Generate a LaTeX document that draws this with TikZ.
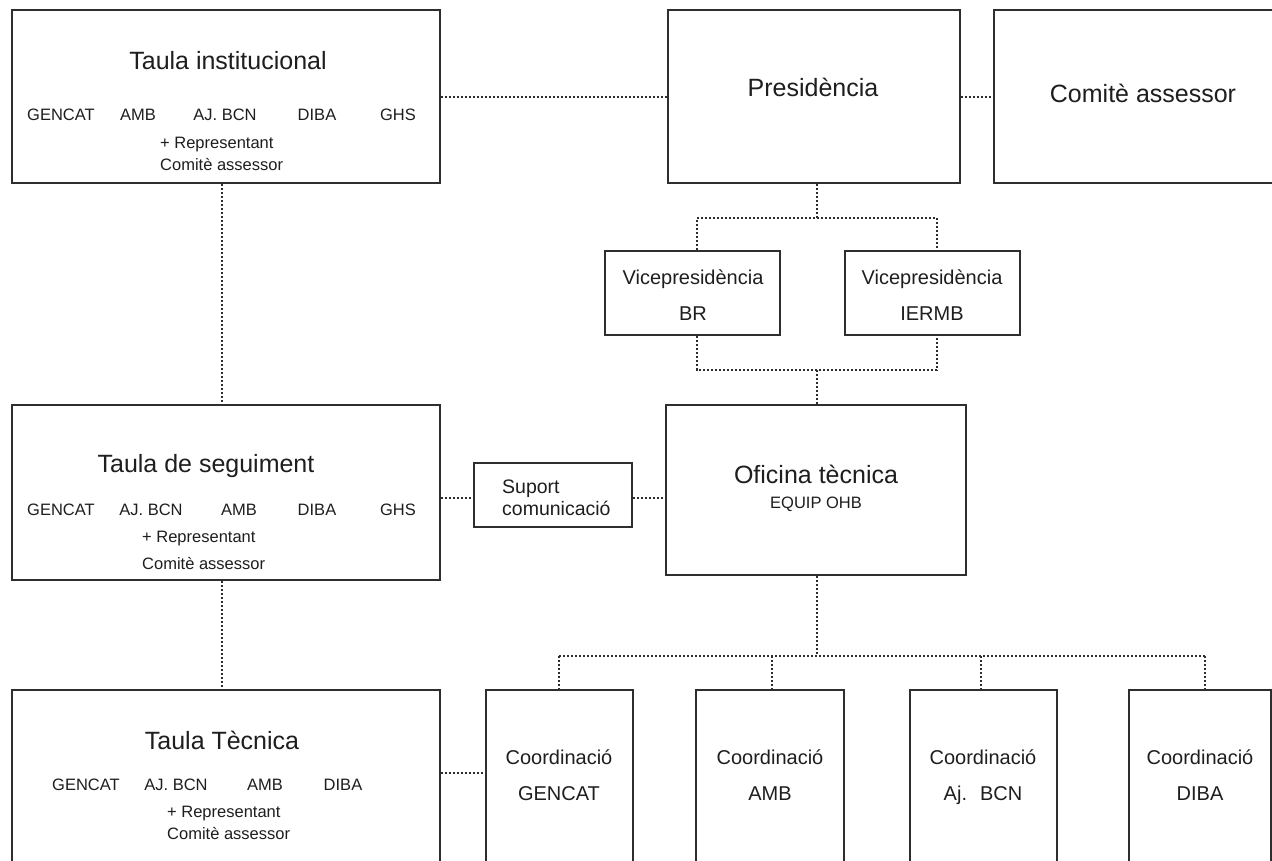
\documentclass[tikz,border=0pt]{standalone}
\usepackage{fontspec}
\setmainfont{Liberation Sans}
\definecolor{lc}{HTML}{2E2E2E}
\definecolor{tc}{HTML}{1E1E1E}
\begin{document}
\begin{tikzpicture}[x=1pt,y=-1pt,
  box/.style={draw=lc, line width=2.2pt, rectangle, inner sep=0pt, fill=white},
  conn/.style={draw=lc, line width=2pt, dash pattern=on 2pt off 2pt},
  tA/.style={inner sep=0pt, text=tc, font=\fontsize{25}{30}\selectfont, text height=18pt, text depth=0pt},
  tB/.style={inner sep=0pt, text=tc, font=\fontsize{20}{24}\selectfont, text height=14.4pt, text depth=0pt},
  tC/.style={inner sep=0pt, text=tc, font=\fontsize{16.5}{20}\selectfont, text height=11.9pt, text depth=0pt},
  tD/.style={inner sep=0pt, text=tc, font=\fontsize{19.5}{23}\selectfont, text height=14pt, text depth=0pt, anchor=west},
  tCw/.style={tC, anchor=west}
]
\useasboundingbox (0,0) rectangle (1272,860);
\clip (0,0) rectangle (1272,860);

% junction coordinates
\coordinate (j1) at (817,218);
\coordinate (b1) at (697,218);
\coordinate (b2) at (937,218);
\coordinate (j2) at (817,370);
\coordinate (c1) at (697,370);
\coordinate (c2) at (937,370);
\coordinate (t0) at (817,656);
\coordinate (tg) at (559,656);
\coordinate (ta) at (772,656);
\coordinate (tb) at (981,656);
\coordinate (td) at (1205,656);
\coordinate (m1) at (463,773);
\coordinate (m2) at (600,498);
\coordinate (vx) at (222,300);

% boxes
\node[box, minimum width=428pt, minimum height=173pt] (inst) at (226,96.5) {};
\node[box, minimum width=292pt, minimum height=173pt] (pres) at (814,96.5) {};
\node[box, minimum width=298pt, minimum height=173pt] (comite) at (1143,96.5) {};
\node[box, minimum width=175pt, minimum height=84pt] (vbr) at (692.5,293) {};
\node[box, minimum width=175pt, minimum height=84pt] (vier) at (932.5,293) {};
\node[box, minimum width=300pt, minimum height=170pt] (ofi) at (816,490) {};
\node[box, minimum width=428pt, minimum height=175pt] (seg) at (226,492.5) {};
\node[box, minimum width=158pt, minimum height=64pt] (sup) at (553,495) {};
\node[box, minimum width=428pt, minimum height=190pt] (tec) at (226,785) {};
\node[box, minimum width=147pt, minimum height=190pt] (cg) at (559.5,785) {};
\node[box, minimum width=148pt, minimum height=190pt] (ca) at (770,785) {};
\node[box, minimum width=147pt, minimum height=190pt] (cb) at (983.5,785) {};
\node[box, minimum width=142pt, minimum height=190pt] (cd) at (1200,785) {};

% connectors
\draw[conn] (inst.east) -- (pres.west);
\draw[conn] (pres.east) -- (comite.west);
\draw[conn] (inst.south -| vx) -- (seg.north -| vx);
\draw[conn] (seg.south -| vx) -- (tec.north -| vx);
\draw[conn] (seg.east |- m2) -- (sup.west |- m2);
\draw[conn] (sup.east |- m2) -- (ofi.west |- m2);
\draw[conn] (tec.east |- m1) -- (cg.west |- m1);
\draw[conn] (pres.south -| j1) -- (j1);
\draw[conn] (vbr.north -| b1) -- (b1) -- (b2) -- (vier.north -| b2);
\draw[conn] (vbr.south -| c1) -- (c1) -- (c2) -- (vier.south -| c2);
\draw[conn] (j2) -- (ofi.north -| j2);
\draw[conn] (ofi.south -| t0) -- (t0);
\draw[conn] (tg) -- (td);
\draw[conn] (tg) -- (cg.north -| tg);
\draw[conn] (ta) -- (ca.north -| ta);
\draw[conn] (tb) -- (cb.north -| tb);
\draw[conn] (td) -- (cd.north -| td);

% Taula institucional
\node[tA] (instT) at (228,60) {Taula institucional};
\node[tC] (i1) at (61,115) {GENCAT};
\node[tC] (i2) at (138,115) {AMB};
\node[tC] (i3) at (225,115) {AJ. BCN};
\node[tC] (i4) at (317,115) {DIBA};
\node[tC] (i5) at (398,115) {GHS};
\node[tCw] (i6) at (160,143) {+ Representant};
\node[tCw] (i7) at (160,165) {Comitè assessor};

% Presidencia, Comite
\node[tA] (presT) at (813,87) {Presidència};
\node[tA] (comT) at (1143,93) {Comitè assessor};

% Vicepresidencies
\node[tB] (v1) at (693,277) {Vicepresidència};
\node[tB] (v2) at (693,313) {BR};
\node[tB] (v3) at (932,277) {Vicepresidència};
\node[tB] (v4) at (932,313) {IERMB};

% Taula de seguiment
\node[tA] (segT) at (206,463) {Taula de seguiment};
\node[tC] (s1) at (61,510) {GENCAT};
\node[tC] (s2) at (151,510) {AJ. BCN};
\node[tC] (s3) at (239,510) {AMB};
\node[tC] (s4) at (317,510) {DIBA};
\node[tC] (s5) at (398,510) {GHS};
\node[tCw] (s6) at (142,537) {+ Representant};
\node[tCw] (s7) at (142,564) {Comitè assessor};

% Suport
\node[tD] (su1) at (502,486) {Suport};
\node[tD] (su2) at (502,508) {comunicació};

% Oficina
\node[tA] (ofT) at (816,474) {Oficina tècnica};
\node[tC] (ofE) at (816,503) {EQUIP OHB};

% Taula Tecnica
\node[tA] (tecT) at (222,740) {Taula Tècnica};
\node[tC] (e1) at (86,785) {GENCAT};
\node[tC] (e2) at (176,785) {AJ. BCN};
\node[tC] (e3) at (265,785) {AMB};
\node[tC] (e4) at (343,785) {DIBA};
\node[tCw] (e5) at (167,812) {+ Representant};
\node[tCw] (e6) at (167,834) {Comitè assessor};

% Coordinacions
\node[tB] (cg1) at (559,757) {Coordinació};
\node[tB] (cg2) at (559,793) {GENCAT};
\node[tB] (ca1) at (770,757) {Coordinació};
\node[tB] (ca2) at (770,793) {AMB};
\node[tB] (cb1) at (983,757) {Coordinació};
\node[tB] (cb2) at (983,793) {Aj.~ BCN};
\node[tB] (cd1) at (1200,757) {Coordinació};
\node[tB] (cd2) at (1200,793) {DIBA};
\end{tikzpicture}
\end{document}
